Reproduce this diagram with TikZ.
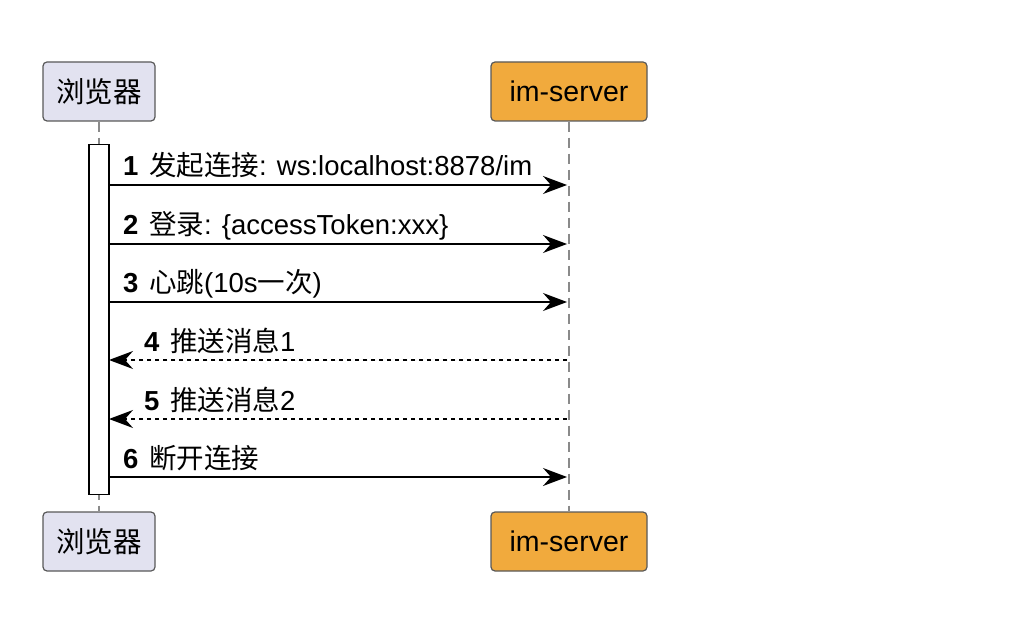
\documentclass[tikz,border=0pt]{standalone}
\usepackage{fontspec}
\setmainfont{Liberation Sans}
\newfontfamily\cjk{Noto Sans CJK SC}
\usetikzlibrary{arrows.meta}
\definecolor{actorfill}{HTML}{E2E2F0}
\definecolor{serverfill}{HTML}{F1AA3D}
\definecolor{lifegray}{HTML}{8A8A8A}

\tikzset{
  actor/.style={draw=black!65, line width=1.2pt, rounded corners=4pt,
    minimum height=59pt, inner sep=0pt, font=\fontsize{28.5}{32}\selectfont},
  lifeline/.style={draw=lifegray, line width=1.5pt, dash pattern=on 10pt off 6pt},
  msg/.style={line width=1.6pt, -{Stealth[length=24pt,width=18pt,inset=8pt]}},
  reply/.style={msg, dash pattern=on 4pt off 4pt},
  lbl/.style={anchor=base west, inner sep=0pt, font=\fontsize{27.5}{30}\selectfont}
}
\newcommand\msgno[1]{\textbf{#1}\hspace{3pt} }

\begin{document}
\begin{tikzpicture}[x=1pt,y=-1pt]
  \useasboundingbox (0,0) rectangle (1028,636);

  % participants
  \node[actor, fill=actorfill, minimum width=112pt] (browserTop) at (99,91.5) {\cjk 浏览器};
  \node[actor, fill=serverfill, minimum width=156pt] (serverTop) at (569,91.5) {im-server};
  \node[actor, fill=actorfill, minimum width=112pt] (browserBot) at (99,541.5) {\cjk 浏览器};
  \node[actor, fill=serverfill, minimum width=156pt] (serverBot) at (569,541.5) {im-server};

  % lifelines
  \draw[lifeline] (browserTop.south) -- (browserBot.north);
  \draw[lifeline] (serverTop.south) -- (serverBot.north);

  % activation
  \node[draw, fill=white, line width=1.5pt, minimum width=20pt, minimum height=350pt,
    inner sep=0pt] (act) at (99,319.5) {};

  % message ends
  \path (109,185) coordinate (b1) (567,185) coordinate (s1);
  \path (109,244) coordinate (b2) (567,244) coordinate (s2);
  \path (109,302) coordinate (b3) (567,302) coordinate (s3);
  \path (109,360) coordinate (b4) (567,360) coordinate (s4);
  \path (109,419) coordinate (b5) (567,419) coordinate (s5);
  \path (109,477) coordinate (b6) (567,477) coordinate (s6);

  \draw[msg] (b1) -- (s1);
  \node[lbl] (l1) at (123,176) {\msgno{1}{\cjk 发起连接}: ws:localhost:8878/im};
  \draw[msg] (b2) -- (s2);
  \node[lbl] (l2) at (123,235) {\msgno{2}{\cjk 登录}: \{accessToken:xxx\}};
  \draw[msg] (b3) -- (s3);
  \node[lbl] (l3) at (123,293) {\msgno{3}{\cjk 心跳}(10s{\cjk 一次})};
  \draw[reply] (s4) -- (b4);
  \node[lbl] (l4) at (144,351) {\msgno{4}{\cjk 推送消息}1};
  \draw[reply] (s5) -- (b5);
  \node[lbl] (l5) at (144,410) {\msgno{5}{\cjk 推送消息}2};
  \draw[msg] (b6) -- (s6);
  \node[lbl] (l6) at (123,468) {\msgno{6}{\cjk 断开连接}};
\end{tikzpicture}
\end{document}
